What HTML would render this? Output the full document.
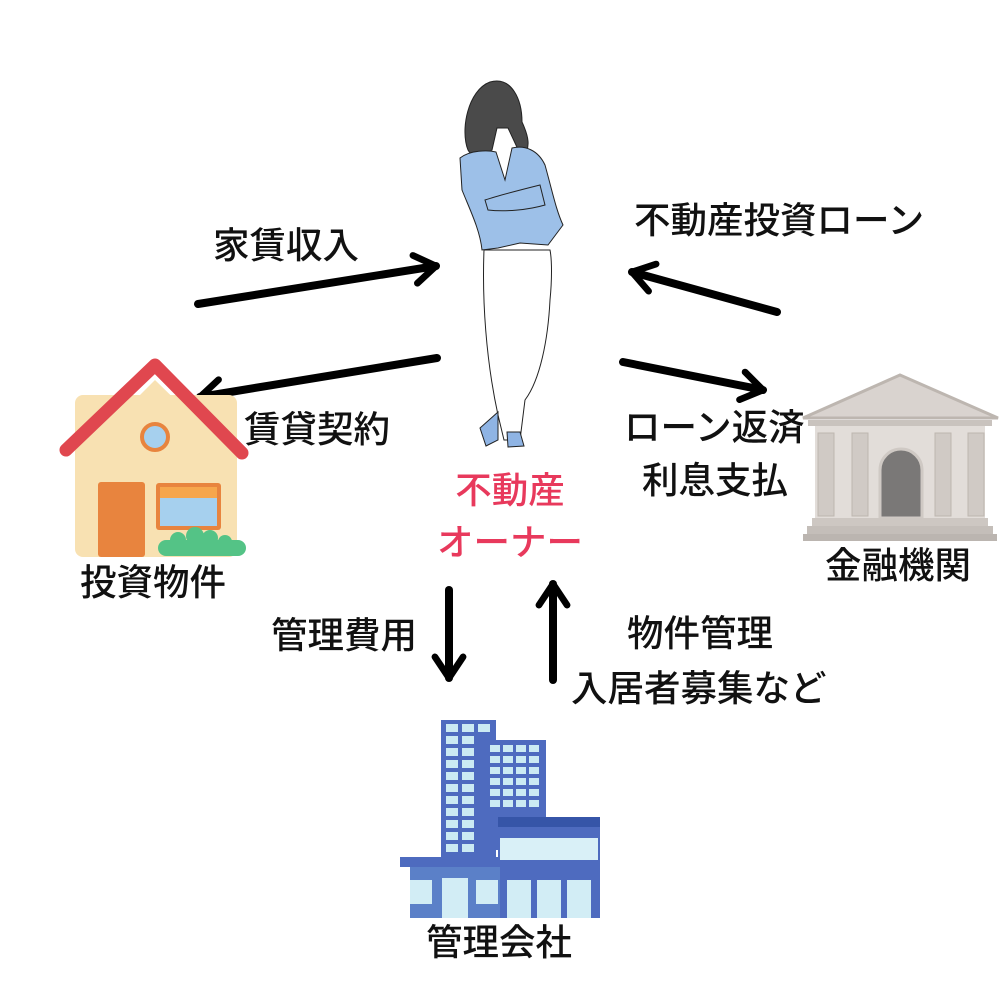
<!DOCTYPE html>
<html><head><meta charset="utf-8"><style>
html,body{margin:0;padding:0;background:#fff;}
svg{display:block}
text{font-family:"Liberation Sans","Noto Sans CJK JP",sans-serif;font-size:36.5px;font-weight:500;fill:#111;}
</style></head><body>
<svg width="1000" height="1000" viewBox="0 0 1000 1000">
<defs>
<marker id="ah" viewBox="0 0 10 10" refX="7" refY="5" markerWidth="4.4" markerHeight="4.4" orient="auto" markerUnits="strokeWidth">
<path d="M1,1 L7,5 L1,9" fill="none" stroke="#000" stroke-width="1.9" stroke-linecap="round" stroke-linejoin="round"/>
</marker>
</defs>
<g stroke="#000" stroke-width="8" stroke-linecap="round" fill="none" marker-end="url(#ah)">
<line x1="198" y1="304" x2="436" y2="266"/>
<line x1="437" y1="358" x2="200" y2="397"/>
<line x1="777" y1="312" x2="632" y2="272"/>
<line x1="623" y1="362" x2="763" y2="390"/>
<line x1="449" y1="590" x2="449" y2="678"/>
<line x1="553" y1="680" x2="553" y2="584"/>
</g>
<!-- house -->
<g>
<rect x="75" y="395" width="162" height="162" rx="8" fill="#f8e1b2"/>
<polygon points="155,380 237,460 75,460" fill="#f8e1b2"/>
<polyline points="66,450 155,365 242,453" fill="none" stroke="#e0474f" stroke-width="13" stroke-linejoin="round" stroke-linecap="round"/>
<circle cx="155" cy="437" r="13" fill="#a6d0ee" stroke="#e8843e" stroke-width="4"/>
<rect x="98" y="482" width="47" height="75" rx="3" fill="#e8843e"/>
<rect x="156" y="483" width="65" height="47" rx="3" fill="#e8843e"/>
<rect x="160" y="487" width="57" height="11" fill="#f6a64c"/>
<rect x="160" y="498" width="57" height="28" fill="#a6d0ee"/>
<g fill="#54c386"><circle cx="178" cy="540" r="8"/><circle cx="195" cy="536" r="9"/><circle cx="210" cy="538" r="8"/><circle cx="225" cy="542" r="7"/><rect x="158" y="540" width="88" height="16" rx="8"/></g>
</g>
<!-- bank -->
<g>
<polygon points="900,375 803,418 998,418" fill="#d9d3cf" stroke="#bdb6b0" stroke-width="3"/>
<rect x="808" y="420" width="184" height="6" fill="#c9c3be"/>
<rect x="815" y="426" width="170" height="94" fill="#e2ddd9"/>
<g fill="#d0cac5" stroke="#bdb6b0" stroke-width="1">
<rect x="818" y="433" width="16" height="83"/><rect x="852" y="433" width="16" height="83"/>
<rect x="935" y="433" width="16" height="83"/><rect x="968" y="433" width="16" height="83"/>
</g>
<path d="M880,518 V470 A21,21 0 0 1 922,470 V518 Z" fill="#7a7877" stroke="#cfc9c4" stroke-width="3"/>
<rect x="812" y="518" width="176" height="8" fill="#cdc7c2"/>
<rect x="807" y="526" width="186" height="8" fill="#c4beb9"/>
<rect x="803" y="534" width="194" height="7" fill="#bbb5b0"/>
</g>
<!-- building -->
<g>
<rect x="441" y="720" width="55" height="145" fill="#4e6bbf"/>
<rect x="486" y="740" width="60" height="110" fill="#4e6bbf"/>
<g fill="#cbeaf3">
<rect x="446" y="724" width="12" height="8"/><rect x="462" y="724" width="12" height="8"/><rect x="478" y="724" width="12" height="8"/>
<rect x="446" y="736" width="12" height="8"/><rect x="462" y="736" width="12" height="8"/>
<rect x="446" y="748" width="12" height="8"/><rect x="462" y="748" width="12" height="8"/>
<rect x="446" y="760" width="12" height="8"/><rect x="462" y="760" width="12" height="8"/>
<rect x="446" y="772" width="12" height="8"/><rect x="462" y="772" width="12" height="8"/>
<rect x="446" y="784" width="12" height="8"/><rect x="462" y="784" width="12" height="8"/>
<rect x="446" y="796" width="12" height="8"/><rect x="462" y="796" width="12" height="8"/>
<rect x="446" y="808" width="12" height="8"/><rect x="462" y="808" width="12" height="8"/>
<rect x="446" y="820" width="12" height="8"/><rect x="462" y="820" width="12" height="8"/>
<rect x="446" y="832" width="12" height="8"/><rect x="462" y="832" width="12" height="8"/>
<rect x="446" y="844" width="12" height="8"/><rect x="462" y="844" width="12" height="8"/>
<rect x="490" y="745" width="10" height="7"/><rect x="503" y="745" width="10" height="7"/><rect x="516" y="745" width="10" height="7"/><rect x="529" y="745" width="10" height="7"/>
<rect x="490" y="756" width="10" height="7"/><rect x="503" y="756" width="10" height="7"/><rect x="516" y="756" width="10" height="7"/><rect x="529" y="756" width="10" height="7"/>
<rect x="490" y="767" width="10" height="7"/><rect x="503" y="767" width="10" height="7"/><rect x="516" y="767" width="10" height="7"/><rect x="529" y="767" width="10" height="7"/>
<rect x="490" y="778" width="10" height="7"/><rect x="503" y="778" width="10" height="7"/><rect x="516" y="778" width="10" height="7"/><rect x="529" y="778" width="10" height="7"/>
<rect x="490" y="789" width="10" height="7"/><rect x="503" y="789" width="10" height="7"/><rect x="516" y="789" width="10" height="7"/><rect x="529" y="789" width="10" height="7"/>
<rect x="490" y="800" width="10" height="7"/><rect x="503" y="800" width="10" height="7"/><rect x="516" y="800" width="10" height="7"/><rect x="529" y="800" width="10" height="7"/>
</g>
<rect x="498" y="817" width="102" height="10" fill="#3655a8"/>
<rect x="498" y="827" width="102" height="91" fill="#4e6bbf"/>
<rect x="500" y="838" width="98" height="22" fill="#d9f0f7"/>
<rect x="400" y="857" width="100" height="10" fill="#4e6bbf"/>
<rect x="410" y="867" width="90" height="51" fill="#5b80c8"/>
<g fill="#d2edf5">
<rect x="410" y="880" width="22" height="24"/><rect x="442" y="878" width="26" height="40"/><rect x="476" y="880" width="22" height="24"/>
<rect x="507" y="880" width="24" height="38"/><rect x="537" y="880" width="24" height="38"/><rect x="567" y="880" width="24" height="38"/>
</g>
</g>
<!-- woman -->
<g stroke="#222" stroke-width="1">
<path d="M468,150 C460,130 468,90 490,82 C512,76 522,100 522,122 C528,135 532,148 522,158 L508,128 L497,128 L492,150 C482,156 472,158 468,150 Z" fill="#4a4a4a"/>
<path d="M484,250 C482,300 486,360 498,415 L504,440 L520,440 L525,400 C540,380 548,340 550,300 C552,280 552,260 550,250 Z" fill="#fff"/>
<path d="M498,412 L480,428 L486,446 L498,440 Z" fill="#8fb4e4"/>
<path d="M507,432 L508,447 L524,446 L520,432 Z" fill="#8fb4e4"/>
<path d="M460,158 C470,150 488,150 496,152 L505,180 L512,148 C525,145 538,150 545,165 C552,190 556,210 563,225 L548,245 L520,243 L498,248 L482,250 C480,230 470,210 462,190 Z" fill="#9dc0e8"/>
<path d="M485,200 C500,195 520,190 540,185 L545,205 C528,210 505,212 488,210 Z" fill="#9dc0e8"/>
</g>
<!-- labels -->
<text x="213" y="258">家賃収入</text>
<text x="244" y="442">賃貸契約</text>
<text x="634" y="233">不動産投資ローン</text>
<text x="624" y="440">ローン返済</text>
<text x="642" y="493">利息支払</text>
<text x="510" y="503" text-anchor="middle" style="fill:#e8395c">不動産</text>
<text x="510" y="555" text-anchor="middle" style="fill:#e8395c">オーナー</text>
<text x="80" y="595">投資物件</text>
<text x="825" y="578">金融機関</text>
<text x="271" y="648">管理費用</text>
<text x="627" y="646">物件管理</text>
<text x="571" y="701">入居者募集など</text>
<text x="426" y="955">管理会社</text>
</svg>
</body></html>
